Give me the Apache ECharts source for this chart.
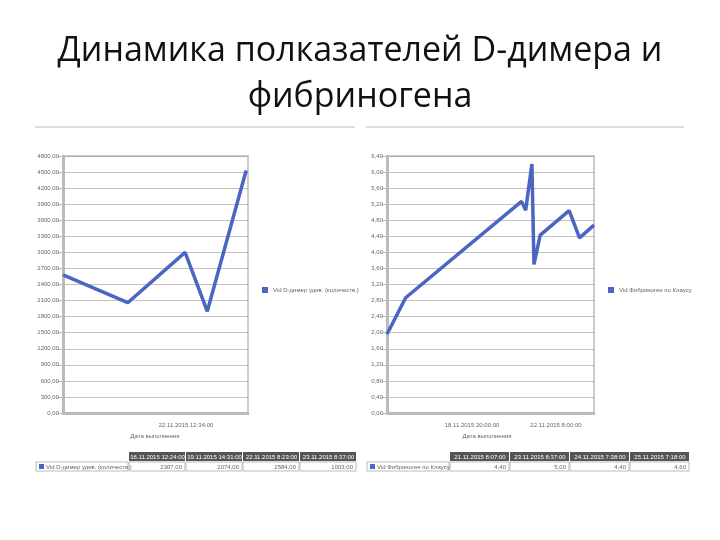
<!DOCTYPE html>
<html><head><meta charset="utf-8">
<script src="https://cdn.jsdelivr.net/npm/echarts@6/dist/echarts.min.js"></script>
<style>html,body{margin:0;background:#fff}#c{width:720px;height:540px}</style>
</head><body><div id="c"></div>
<script>
// D-димер: позиция по оси времени (0..100) и значение
const dimerX = [0, 35, 66, 78, 99]
const dimerY = [2580, 2060, 3000, 1900, 4530]
// фибриноген
const fibX = [0, 9, 65, 67, 70, 71, 74, 88, 93, 100]
const fibY = [1.96, 2.87, 5.27, 5.05, 6.2, 3.7, 4.43, 5.04, 4.36, 4.68]
const leftHeads = ['16.11.2015 12:24:00', '19.11.2015 14:31:00', '22.11.2015 8:23:00', '23.11.2015 8:37:00']
const leftVals = ['2307,00', '2074,00', '2584,00', '1003,00']
const rightHeads = ['21.11.2015 8:07:00', '23.11.2015 8:37:00', '24.11.2015 7:38:00', '25.11.2015 7:18:00']
const rightVals = ['4,40', '5,00', '4,40', '4,60']

let chart = echarts.init(document.getElementById('c'))
const blue = '#4a66c0'
const small = {fontSize: 6, color: '#666', fontFamily: 'Liberation Sans'}

function table(x0, y0, colW, labW, heads, vals, name) {
    let els = []
    heads.forEach((h, i) => {
        let x = x0 + labW + i * colW
        els.push({type: 'rect', shape: {x: x, y: y0, width: colW - 1, height: 9}, style: {fill: '#555'}})
        els.push({type: 'text', x: x + colW / 2, y: y0 + 2, style: {text: h, fill: '#fff', fontSize: 6, align: 'center', fontFamily: 'Liberation Sans'}})
        els.push({type: 'rect', shape: {x: x, y: y0 + 10, width: colW - 1, height: 9}, style: {fill: '#fff', stroke: '#bbb'}})
        els.push({type: 'text', x: x + colW - 4, y: y0 + 12, style: {text: vals[i], fill: '#666', fontSize: 6, align: 'right', fontFamily: 'Liberation Sans'}})
    })
    els.push({type: 'rect', shape: {x: x0, y: y0 + 10, width: labW - 1, height: 9}, style: {fill: '#fff', stroke: '#bbb'}})
    els.push({type: 'rect', shape: {x: x0 + 3, y: y0 + 12, width: 5, height: 5}, style: {fill: blue}})
    els.push({type: 'text', x: x0 + 10, y: y0 + 12, style: {text: name, fill: '#666', fontSize: 6, fontFamily: 'Liberation Sans'}})
    return els
}

const option = {
    title: {
        text: 'Динамика полказателей D-димера и\nфибриногена',
        left: 'center', top: 23,
        textStyle: {fontSize: 34, fontWeight: 'normal', color: '#111', fontFamily: 'Open Sans', lineHeight: 46}
    },
    grid: [
        {left: 63, top: 156, width: 185, height: 257, show: true, borderColor: '#ccc', borderWidth: 2},
        {left: 387, top: 156, width: 207, height: 257, show: true, borderColor: '#ccc', borderWidth: 2}
    ],
    xAxis: [
        {gridIndex: 0, type: 'value', min: 0, max: 100, axisLabel: {show: false}, axisTick: {show: false}, splitLine: {show: false}, axisLine: {lineStyle: {color: '#bbb', width: 3}}},
        {gridIndex: 1, type: 'value', min: 0, max: 100, axisLabel: {show: false}, axisTick: {show: false}, splitLine: {show: false}, axisLine: {lineStyle: {color: '#bbb', width: 3}}}
    ],
    yAxis: [
        {gridIndex: 0, type: 'value', min: 0, max: 4800, interval: 300, axisLine: {show: true, lineStyle: {color: '#bbb', width: 3}},
            axisLabel: Object.assign({formatter: v => v === 0 ? '0,00' : v + ',00', margin: 4}, small),
            splitLine: {lineStyle: {color: '#999', width: 0.6}}},
        {gridIndex: 1, type: 'value', min: 0, max: 6.4, interval: 0.4, axisLine: {show: true, lineStyle: {color: '#bbb', width: 3}},
            axisLabel: Object.assign({formatter: v => v.toFixed(2).replace('.', ','), margin: 4}, small),
            splitLine: {lineStyle: {color: '#999', width: 0.6}}}
    ],
    legend: [
        {data: ['Vid D-димер уднв. (количеств.)'], left: 257, top: 282, itemWidth: 6, itemHeight: 6, icon: 'rect', textStyle: small},
        {data: ['Vid Фибриноген по Клаусу'], left: 603, top: 282, itemWidth: 6, itemHeight: 6, icon: 'rect', textStyle: small}
    ],
    series: [
        {name: 'Vid D-димер уднв. (количеств.)', type: 'line', xAxisIndex: 0, yAxisIndex: 0, data: dimerX.map((x, i) => [x, dimerY[i]]),
            symbol: 'none', lineStyle: {color: blue, width: 3.5}, itemStyle: {color: blue}},
        {name: 'Vid Фибриноген по Клаусу', type: 'line', xAxisIndex: 1, yAxisIndex: 1, data: fibX.map((x, i) => [x, fibY[i]]),
            symbol: 'none', lineStyle: {color: blue, width: 3.5}, itemStyle: {color: blue}}
    ],
    graphic: [
        {type: 'line', shape: {x1: 35, y1: 127, x2: 355, y2: 127}, style: {stroke: '#bbb', lineWidth: 1}},
        {type: 'line', shape: {x1: 366, y1: 127, x2: 684, y2: 127}, style: {stroke: '#bbb', lineWidth: 1}},
        {type: 'text', x: 186, y: 422, style: {text: '22.11.2015 12:34:00', fontSize: 6, fill: '#666', align: 'center'}},
        {type: 'text', x: 155, y: 433, style: {text: 'Дата выполнения', fontSize: 6, fill: '#666', align: 'center'}},
        {type: 'text', x: 472, y: 422, style: {text: '18.11.2015 20:00:00', fontSize: 6, fill: '#666', align: 'center'}},
        {type: 'text', x: 556, y: 422, style: {text: '22.11.2015 8:00:00', fontSize: 6, fill: '#666', align: 'center'}},
        {type: 'text', x: 487, y: 433, style: {text: 'Дата выполнения', fontSize: 6, fill: '#666', align: 'center'}}
    ].concat(table(36, 452, 57, 93, leftHeads, leftVals, 'Vid D-димер уднв. (количеств.)'))
     .concat(table(367, 452, 60, 83, rightHeads, rightVals, 'Vid Фибриноген по Клаусу'))
}
chart.setOption(option)
</script></body></html>
